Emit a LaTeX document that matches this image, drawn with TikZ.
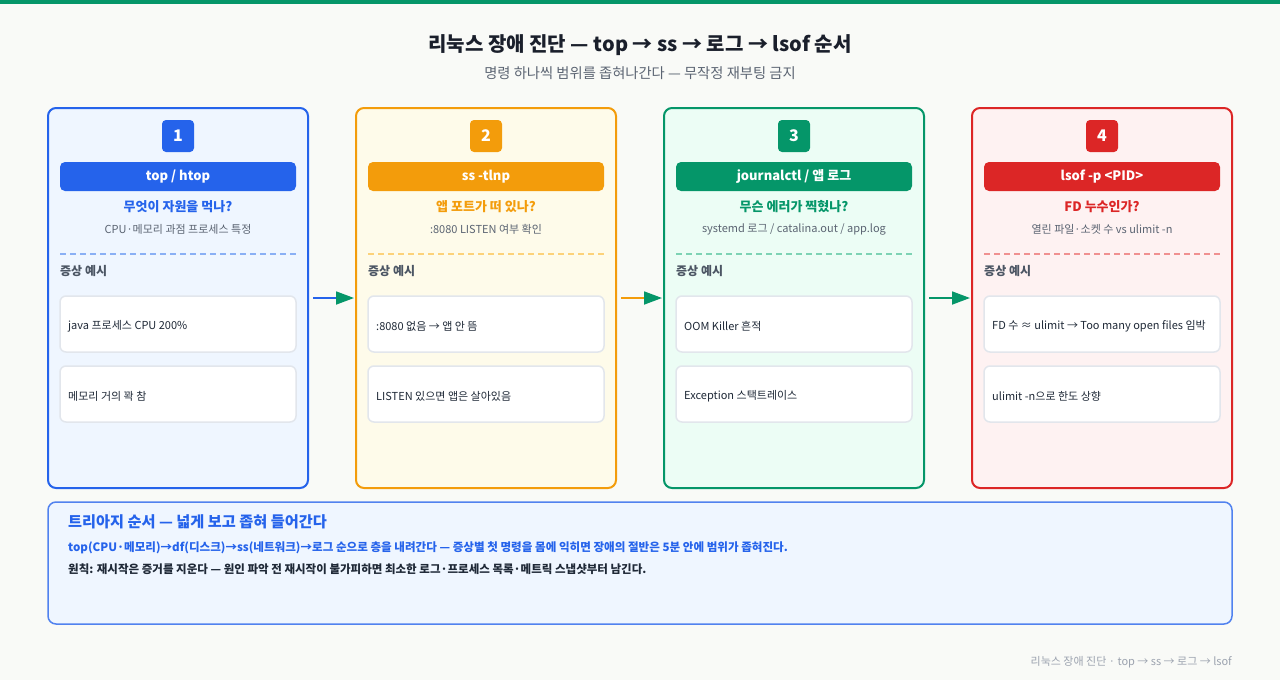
\documentclass[tikz,border=0pt]{standalone}
\usepackage{fontspec}
\setmainfont{Noto Sans CJK KR}
\usetikzlibrary{arrows.meta}
\definecolor{bgc}{HTML}{F9FAF7}
\definecolor{cblue}{HTML}{2563EB}
\definecolor{corange}{HTML}{F39C0B}
\definecolor{cgreen}{HTML}{059669}
\definecolor{cred}{HTML}{DC2626}
\definecolor{fblue}{HTML}{EFF6FF}
\definecolor{forange}{HTML}{FEFBEA}
\definecolor{fgreen}{HTML}{ECFDF5}
\definecolor{fred}{HTML}{FEF2F2}
\definecolor{dblue}{HTML}{8AB0F5}
\definecolor{dorange}{HTML}{FCD27A}
\definecolor{dgreen}{HTML}{7DD3B4}
\definecolor{dred}{HTML}{F09090}
\definecolor{tgray}{HTML}{5B6472}
\definecolor{tdark}{HTML}{1F2937}
\definecolor{tlabel}{HTML}{4B5563}
\definecolor{itemborder}{HTML}{E2E6EC}
\definecolor{footgray}{HTML}{9CA3AF}
\definecolor{titlec}{HTML}{1A1F2B}
\tikzset{
  cardbox/.style={draw=#1, line width=2pt, rounded corners=8pt, minimum width=260pt, minimum height=380pt, inner sep=0pt},
  badge/.style={fill=#1, rounded corners=4pt, minimum width=32pt, minimum height=32pt, inner sep=0pt, text=white, font=\fontsize{16}{18}\selectfont\bfseries},
  headbar/.style={fill=#1, rounded corners=5pt, minimum width=236pt, minimum height=29pt, inner sep=0pt, text=white, font=\fontsize{13}{15}\selectfont\bfseries},
  question/.style={text=#1, font=\fontsize{13}{15}\selectfont\bfseries, inner sep=0pt},
  desc/.style={text=tgray, font=\fontsize{11}{13}\selectfont, inner sep=0pt},
  sectlabel/.style={text=tlabel, font=\fontsize{12}{14}\selectfont\bfseries, inner sep=0pt, anchor=west},
  itembox/.style={draw=itemborder, fill=white, line width=1.5pt, rounded corners=6pt, minimum width=236pt, minimum height=56pt, inner sep=0pt},
  itemtext/.style={text=tdark, font=\fontsize{11}{13}\selectfont, inner sep=0pt, anchor=west},
  sep/.style={draw=#1, line width=1.5pt, dash pattern=on 6pt off 4pt},
  flow/.style={draw=#1, line width=1.8pt, -{Triangle[length=18pt,width=13pt,color=cgreen]}}
}
\newcommand\mkcard[9]{%
  \node[cardbox=#3, fill=#4] (c#1) at (#2,298) {};
  \node[badge=#3] (b#1) at (#2,136) {#1};
  \node[headbar=#3] (h#1) at (#2,176.5) {#6};
  \node[question=#3] (q#1) at (#2,207) {#7};
  \node[desc] (d#1) at (#2,229) {#8};
  \coordinate (sl#1) at (#2-118,254);
  \coordinate (sr#1) at (#2+118,254);
  \draw[sep=#5] (sl#1) -- (sr#1);
  \node[sectlabel] (l#1) at (#2-118,271) {증상 예시};
  \node[itembox] (ia#1) at (#2,324) {};
  \node[itembox] (ib#1) at (#2,394) {};
  \node[itemtext] (ta#1) at (#2-110,326.5) {#9};
}
\begin{document}
\begin{tikzpicture}[x=1pt,y=-1pt]
\useasboundingbox (0,0) rectangle (1280,680);
\fill[bgc] (0,0) rectangle (1280,680);
\fill[cgreen] (0,0) rectangle (1280,3.5);
\node[text=titlec, font=\fontsize{20}{24}\selectfont\bfseries, inner sep=0pt] (title) at (640,45) {리눅스 장애 진단 — top → ss → 로그 → lsof 순서};
\node[text=tgray, font=\fontsize{14.3}{17}\selectfont, inner sep=0pt] (subtitle) at (640,73) {명령 하나씩 범위를 좁혀나간다 — 무작정 재부팅 금지};

\mkcard{1}{178}{cblue}{fblue}{dblue}{top / htop}{무엇이 자원을 먹나?}{CPU·메모리 과점 프로세스 특정}{java 프로세스 CPU 200\%}
\node[itemtext] (tb1) at (68,396.5) {메모리 거의 꽉 참};
\mkcard{2}{486}{corange}{forange}{dorange}{ss -tlnp}{앱 포트가 떠 있나?}{:8080 LISTEN 여부 확인}{:8080 없음 → 앱 안 뜸}
\node[itemtext] (tb2) at (376,396.5) {LISTEN 있으면 앱은 살아있음};
\mkcard{3}{794}{cgreen}{fgreen}{dgreen}{journalctl / 앱 로그}{무슨 에러가 찍혔나?}{systemd 로그 / catalina.out / app.log}{OOM Killer 흔적}
\node[itemtext] (tb3) at (684,396.5) {Exception 스택트레이스};
\mkcard{4}{1102}{cred}{fred}{dred}{lsof -p <PID>}{FD 누수인가?}{열린 파일·소켓 수 vs ulimit -n}{FD 수 ≈ ulimit → Too many open files 임박}
\node[itemtext] (tb4) at (992,396.5) {ulimit -n으로 한도 상향};

\draw[flow=cblue] ([xshift=4pt]c1.east) -- ([xshift=-1pt]c2.west);
\draw[flow=corange] ([xshift=4pt]c2.east) -- ([xshift=-1pt]c3.west);
\draw[flow=cgreen] ([xshift=4pt]c3.east) -- ([xshift=-1pt]c4.west);

\node[draw=cblue!80, fill=fblue, line width=1.5pt, rounded corners=8pt, minimum width=1184pt, minimum height=122pt, inner sep=0pt] (note) at (640,563) {};
\node[text=cblue, font=\fontsize{15.2}{18}\selectfont\bfseries, inner sep=0pt, anchor=west] (nt) at (68,522) {트리아지 순서 — 넓게 보고 좁혀 들어간다};
\node[text=cblue, font=\fontsize{11.55}{14}\selectfont\bfseries, inner sep=0pt, anchor=west] (n1) at (68,548) {top(CPU·메모리)→df(디스크)→ss(네트워크)→로그 순으로 층을 내려간다 — 증상별 첫 명령을 몸에 익히면 장애의 절반은 5분 안에 범위가 좁혀진다.};
\node[text=tdark, font=\fontsize{11.5}{14}\selectfont\bfseries, inner sep=0pt, anchor=west] (n2) at (68,569) {원칙: 재시작은 증거를 지운다 — 원인 파악 전 재시작이 불가피하면 최소한 로그·프로세스 목록·메트릭 스냅샷부터 남긴다.};

\node[text=footgray, font=\fontsize{11}{13}\selectfont, inner sep=0pt, anchor=east] (foot) at (1232,662) {리눅스 장애 진단 · top → ss → 로그 → lsof};
\end{tikzpicture}
\end{document}
